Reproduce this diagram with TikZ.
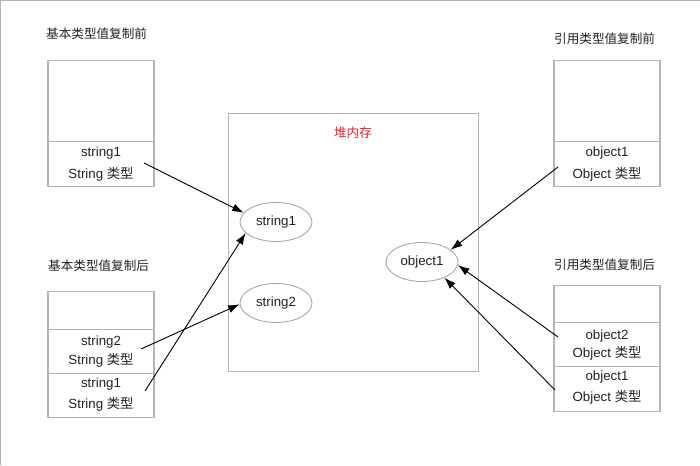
\documentclass[tikz,border=0pt]{standalone}
\usepackage{fontspec}
\setmainfont{Liberation Sans}
\newfontfamily\cjk{Noto Sans CJK SC}
\usetikzlibrary{arrows.meta,shapes.geometric}
\definecolor{boxgray}{HTML}{B4B4B4}
\definecolor{ellgray}{HTML}{A8A8A8}
\definecolor{heapred}{HTML}{E8202E}
\definecolor{txtcol}{HTML}{222222}
\tikzset{
  cell/.style={draw=boxgray, line width=1.1pt, minimum width=106pt, inner sep=0pt, anchor=north},
  ell/.style={ellipse, draw=ellgray, line width=0.9pt, minimum width=72pt, minimum height=39pt, inner sep=0pt, text=txtcol, font=\fontsize{13.3}{15}\selectfont},
  txt/.style={inner sep=0pt, text=txtcol, font=\fontsize{13.3}{15}\selectfont},
  title/.style={inner sep=0pt, anchor=west, text=txtcol, font=\cjk\fontsize{12.6}{15}\selectfont},
  ref/.style={-{Latex[length=11.5pt,width=8pt]}, line width=0.9pt, black}
}
\begin{document}
\begin{tikzpicture}[x=1pt,y=-1pt]
\useasboundingbox (0,0) rectangle (700,465);
\draw[boxgray, line width=1pt] (0.5,465) -- (0.5,0.5) -- (700,0.5);

% titles
\node[title] (t1) at (46,34) {基本类型值复制前};
\node[title] (t2) at (554,39) {引用类型值复制前};
\node[title] (t3) at (48,266) {基本类型值复制后};
\node[title] (t4) at (554,265) {引用类型值复制后};

% heap
\node[draw=boxgray, line width=1.1pt, minimum width=250pt, minimum height=258pt, anchor=north west, inner sep=0pt] (heap) at (228,113) {};
\node[txt, text=heapred, font=\cjk\fontsize{12.6}{15}\selectfont] (heaplbl) at (353,133) {堆内存};
\node[ell] (s1) at (276,222) {string1};
\node[ell] (s2) at (276,303) {string2};
\node[ell] (o1) at (422,262) {object1};

% top-left box
\node[cell, minimum height=81pt] (a1) at (101,60) {};
\node[cell, minimum height=45pt] (a2) at (101,141) {};
\node[txt] (a2x) at (101,153) {string1};
\node[txt] (a2y) at (101,174) {String {\cjk 类型}};

% top-right box
\node[cell, minimum height=81pt] (b1) at (607,60) {};
\node[cell, minimum height=45pt] (b2) at (607,141) {};
\node[txt] (b2x) at (607,153) {object1};
\node[txt] (b2y) at (607,174) {Object {\cjk 类型}};

% bottom-left box
\node[cell, minimum height=38pt] (c1) at (101,291) {};
\node[cell, minimum height=44pt] (c2) at (101,329) {};
\node[cell, minimum height=44pt] (c3) at (101,373) {};
\node[txt] (c2x) at (101,342) {string2};
\node[txt] (c2y) at (101,360) {String {\cjk 类型}};
\node[txt] (c3x) at (101,384) {string1};
\node[txt] (c3y) at (101,404) {String {\cjk 类型}};

% bottom-right box
\node[cell, minimum height=37pt] (d1) at (607,285) {};
\node[cell, minimum height=44pt] (d2) at (607,322) {};
\node[cell, minimum height=45pt] (d3) at (607,366) {};
\node[txt] (d2x) at (607,336) {object2};
\node[txt] (d2y) at (607,353) {Object {\cjk 类型}};
\node[txt] (d3x) at (607,377) {object1};
\node[txt] (d3y) at (607,397) {Object {\cjk 类型}};

% arrow starts
\coordinate (pa) at (144,163);
\coordinate (pc2) at (141,349);
\coordinate (pc3) at (145,391);
\coordinate (pb) at (558,167);
\coordinate (pd2) at (558,337);
\coordinate (pd3) at (555,390);

\draw[ref] (pa) -- (s1.164);
\draw[ref] (pc2) -- (s2.182);
\draw[ref] (pc3) -- (s1.200);
\draw[ref] (pb) -- (o1.23);
\draw[ref] (pd2) -- (o1.355);
\draw[ref] (pd3) -- (o1.325);
\end{tikzpicture}
\end{document}
